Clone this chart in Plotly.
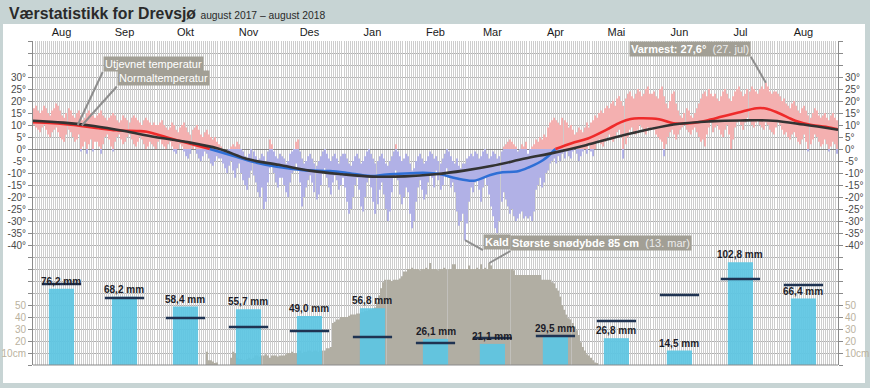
import pandas as pd
import plotly.graph_objects as go

# ---------------- data ----------------
tmax_aug17 = [17,18,16,15,16,18,17,15,14,16,17,19,18,16,14,13,15,17,16,14,13,15,16,14,12,13,15,16,15,14,13]
tmin_aug17 = [10,9,8,7,9,10,8,6,5,7,8,9,7,5,4,3,6,8,7,5,3,4,6,-1,1,3,-2,2,4,-1,3]
tmax_sep17 = [14,15,16,14,13,12,13,14,15,14,12,11,12,14,13,12,11,13,14,13,12,11,10,12,13,12,11,10,11,10]
tmin_sep17 = [3,1,-2,2,5,6,4,1,-1,3,5,6,4,2,3,5,6,4,2,1,3,5,4,2,0,1,3,2,1,0]
tmax_okt17 = [10,11,12,10,9,8,9,11,10,8,7,9,10,11,9,7,6,8,9,10,8,6,5,7,8,6,5,4,5,3,2]
tmin_okt17 = [3,4,2,1,0,2,3,1,-1,-2,0,2,1,-1,-3,-4,-2,0,1,-2,-4,-5,-3,-1,-2,-4,-6,-7,-5,-3,-4]
tmax_nov17 = [1,0,-1,-2,0,1,2,1,3,2,0,-1,-3,-4,-2,0,-1,-3,-5,-4,-2,-3,-5,-1,4,2,-1,-3,-4,-2]
tmin_nov17 = [-4,-6,-8,-10,-7,-5,-9,-12,-8,-6,-10,-13,-15,-17,-12,-9,-11,-14,-18,-20,-16,-25,-22,-14,-8,-6,-10,-14,-16,-12]
tmax_des17 = [-3,-4,-6,-5,-2,-1,0,3,4,-1,-4,-6,-5,-3,-2,-4,-6,-7,-5,-3,-1,0,-2,-4,-5,-3,-2,-4,-6,-3,-2]
tmin_des17 = [-12,-15,-18,-20,-14,-10,-9,-6,-8,-14,-24,-20,-16,-13,-11,-14,-18,-21,-19,-15,-10,-8,-12,-16,-19,-14,-11,-13,-17,-15,-12]
tmax_jan18 = [-2,-4,-6,-7,-5,-3,-2,-4,-6,-5,-3,-1,0,-2,-4,-6,-5,-3,-2,-4,-6,-7,-5,-3,-1,2,-1,-3,-5,-4,-2]
tmin_jan18 = [-16,-22,-27,-25,-20,-15,-12,-17,-24,-26,-20,-14,-12,-16,-22,-27,-23,-17,-14,-19,-25,-30,-26,-18,-12,-9,-13,-19,-23,-20,-16]
tmax_feb18 = [-3,-6,-9,-8,-5,-3,-2,-4,-6,-5,-3,-1,-2,-4,-3,-5,-6,-4,-2,0,-1,-3,-5,-6,-4,-7,-8,-6]
tmin_feb18 = [-18,-27,-33,-30,-22,-16,-13,-17,-21,-19,-14,-10,-12,-16,-9,-13,-17,-15,-11,-8,-12,-16,-14,-18,-26,-32,-30,-27]
tmax_mar18 = [-6,-4,-3,-2,-3,-1,-2,-4,-3,-1,0,-2,-4,-3,-1,-2,-4,-3,-1,1,2,3,4,3,2,1,-1,0,2,1,3]
tmin_mar18 = [-38,-31,-22,-16,-18,-14,-13,-17,-22,-16,-12,-15,-19,-24,-28,-33,-35,-30,-22,-18,-21,-24,-27,-25,-28,-30,-29,-27,-26,-29,-28]
tmax_apr18 = [-2,0,1,2,4,3,5,4,6,5,9,11,12,13,12,11,10,13,12,11,9,10,8,6,7,9,8,7,9,11]
tmin_apr18 = [-29,-28,-30,-26,-17,-15,-12,-16,-14,-10,-9,-6,-5,-4,-6,-3,-5,-2,-4,-1,-3,-4,-1,0,-2,-5,-3,-1,0,-2]
tmax_mai18 = [9,11,12,14,13,15,16,15,17,18,17,19,20,18,21,22,20,18,21,23,24,22,21,23,25,24,22,23,25,26,23]
tmin_mai18 = [2,-1,-3,0,3,4,2,1,3,5,6,4,3,5,7,8,6,-4,2,5,8,9,7,6,8,10,9,7,6,9,8]
tmax_jun18 = [23,24,22,21,25,26,22,19,17,20,23,24,19,16,14,13,15,17,16,14,13,15,17,19,21,23,24,22,25,23]
tmin_jun18 = [9,8,6,5,4,3,-3,2,5,7,8,6,4,6,8,9,10,8,7,6,8,9,7,5,3,4,1,6,9,11]
tmax_jul18 = [22,23,21,20,22,24,25,23,21,20,22,24,25,26,24,22,23,25,24,26,25,24,23,25,26,25,27.6,26,24,23,24]
tmin_jul18 = [7,9,10,8,6,5,8,10,6,0,4,9,11,12,10,8,11,13,12,10,9,11,12,10,9,8,11,10,8,7,6]
tmax_aug18 = [24,23,22,20,21,19,18,17,19,20,18,16,15,17,18,16,14,13,15,17,16,14,13,14,15,13,12,14,15,13,12]
tmin_aug18 = [9,11,10,8,6,7,5,4,6,7,5,3,2,4,6,3,-1,2,4,6,5,3,1,2,4,2,-1,1,3,2,-2]

smooth_dates = ['2017-08-01','2017-08-11','2017-08-21','2017-09-01','2017-09-11','2017-09-21','2017-09-26',
                '2017-10-06','2017-10-16','2017-10-27','2017-11-09','2017-11-19','2017-11-29','2017-12-12',
                '2017-12-25','2018-01-02','2018-01-14','2018-01-22','2018-02-03','2018-02-09','2018-02-17',
                '2018-02-25','2018-03-06','2018-03-14','2018-03-20','2018-03-27','2018-04-02','2018-04-09',
                '2018-04-15','2018-04-23','2018-05-01','2018-05-10','2018-05-17','2018-05-22','2018-05-26',
                '2018-06-05','2018-06-12','2018-06-20','2018-06-28','2018-07-06','2018-07-14','2018-07-23',
                '2018-07-28','2018-08-03','2018-08-11','2018-08-19','2018-08-26','2018-09-01']
smooth_temp = [11.2,10.8,10.0,8.8,7.8,7.5,7.2,4.8,2.5,0,-3.2,-5.7,-7.4,-8.8,-9.2,-9.9,-11.3,-10.6,-10.1,-9.9,
               -10.4,-12.2,-13.2,-10.8,-9.7,-9.4,-7.6,-4.6,0,2.4,4.4,8,11.1,12.5,12.8,12.4,10.7,10.7,11.8,
               13.5,15.2,17,16.8,14.9,11.8,10,9.3,8.2]

normal_dates = ['2017-08-01','2017-08-16','2017-08-31','2017-09-15','2017-09-30','2017-10-15','2017-10-31',
                '2017-11-15','2017-11-30','2017-12-15','2017-12-31','2018-01-15','2018-01-31','2018-02-15',
                '2018-03-01','2018-03-15','2018-03-31','2018-04-15','2018-04-30','2018-05-15','2018-05-31',
                '2018-06-15','2018-06-30','2018-07-15','2018-07-31','2018-08-15','2018-09-01']
normal_temp = [11.8,11.0,9.6,7.5,5.0,3.0,0.2,-4.3,-6.6,-9.0,-10.5,-11.5,-11.4,-10.5,-9.0,-7.0,-4.0,-1.4,1.6,
               5.0,8.2,10.5,11.5,11.9,11.8,10.2,8.0]

snow_start = '2017-10-25'
snow_cm = ([11,4,4,3,1,2,0] +
           [0,0,0,0,0,6,11,10,6,5,5,4,4,5,6,5,6,8,8,7,8,8,9,8,6,8,8,8,7,8] +
           [8,8,9,10,10,11,10,10,12,12,10,11,11,12,12,11,12,12,11,12,12,12,14,14,15,35,36,38,38,40,40] +
           [40,40,41,42,42,42,43,43,44,44,45,45,46,46,47,48,52,58,64,69,71,71,71,70,71,71,71,72,74,78,78] +
           [80,80,81,80,80,80,79,80,80,81,80,85,80,80,80,79,80,80,81,80,80,80,84,84,80,80,80,80] +
           [80,80,83,80,80,80,81,80,84,80,81,80,85,83,80,80,80,80,80,80,80,80,80,80,79,75,75,75,75,75,75] +
           [75,75,75,75,75,75,75,71,71,71,71,71,69,68,64,62,57,50,46,42,39,38,35,32,29,25,19,15,12,9] +
           [8,6,4,2,1])

month_mid = ['2017-08-15','2017-09-15','2017-10-15','2017-11-15','2017-12-15','2018-01-15','2018-02-15',
             '2018-03-15','2018-04-15','2018-05-15','2018-06-15','2018-07-15','2018-08-15']
month_names = ['Aug','Sep','Okt','Nov','Des','Jan','Feb','Mar','Apr','Mai','Jun','Jul','Aug']
precip_mm = [76.2,68.2,58.4,55.7,49.0,56.8,26.1,21.1,29.5,26.8,14.5,102.8,66.4]
precip_normal = [81,67,47,38,34,28,22,27,29,44,70,86,80]
precip_labels = ['76,2 mm','68,2 mm','58,4 mm','55,7 mm','49,0 mm','56,8 mm','26,1 mm','21,1 mm',
                 '29,5 mm','26,8 mm','14,5 mm','102,8 mm','66,4 mm']

temp_tick_vals = [30,25,20,15,10,5,0,-5,-10,-15,-20,-25,-30,-35,-40]
temp_tick_text = ['30°','25°','20°','15°','10°','5°','0°','-5°','-10°','-15°','-20°','-25°','-30°','-35°','-40°']
snow_tick_vals = [10,20,30,40,50]
snow_tick_text = ['10cm','20','30','40','50']

# ---------------- assemble ----------------
tmax = (tmax_aug17 + tmax_sep17 + tmax_okt17 + tmax_nov17 + tmax_des17 + tmax_jan18 + tmax_feb18 +
        tmax_mar18 + tmax_apr18 + tmax_mai18 + tmax_jun18 + tmax_jul18 + tmax_aug18)
tmin = (tmin_aug17 + tmin_sep17 + tmin_okt17 + tmin_nov17 + tmin_des17 + tmin_jan18 + tmin_feb18 +
        tmin_mar18 + tmin_apr18 + tmin_mai18 + tmin_jun18 + tmin_jul18 + tmin_aug18)
assert len(tmax) == 396 and len(tmin) == 396, (len(tmax), len(tmin))
assert len(snow_cm) == 193, len(snow_cm)

DAY = 86400000
days = [d.strftime('%Y-%m-%dT12:00') for d in pd.date_range('2017-08-01', periods=len(tmax), freq='D')]
snow_days = [d.strftime('%Y-%m-%dT12:00') for d in pd.date_range(snow_start, periods=len(snow_cm), freq='D')]

pos_base = [max(lo, 0) if hi > 0 else None for hi, lo in zip(tmax, tmin)]
pos_h = [hi - max(lo, 0) if hi > 0 else None for hi, lo in zip(tmax, tmin)]
neg_base = [lo if lo < 0 else None for hi, lo in zip(tmax, tmin)]
neg_h = [min(hi, 0) - lo if lo < 0 else None for hi, lo in zip(tmax, tmin)]

# split smoothed line by sign
segs = []
cur = [[], [], None]
for d, v in zip(smooth_dates, smooth_temp):
    sign = 'pos' if v > 0 else ('neg' if v < 0 else None)
    if sign is None:
        cur[0].append(d); cur[1].append(v)
        segs.append(cur)
        cur = [[d], [v], None]
        continue
    if cur[2] is None:
        cur[2] = sign
    cur[0].append(d); cur[1].append(v)
segs.append(cur)

fig = go.Figure()

# invisible trace that carries the daily vertical grid (xaxis2)
fig.add_trace(go.Scatter(x=[days[0]], y=[0], xaxis='x2', yaxis='y', mode='markers', marker=dict(opacity=0),
                         hoverinfo='skip', showlegend=False))

# temperature daily bars
fig.add_trace(go.Bar(x=days, y=pos_h, base=pos_base, width=0.55 * DAY, marker=dict(color='#f4b0b0', line=dict(width=0)),
                     hoverinfo='skip', showlegend=False))
fig.add_trace(go.Bar(x=days, y=neg_h, base=neg_base, width=0.55 * DAY, marker=dict(color='#b1b1e6', line=dict(width=0)),
                     hoverinfo='skip', showlegend=False))
for sd, sv, sg in segs:
    if len(sd) < 2:
        continue
    col = '#ef2b2b' if sg == 'pos' else '#2f6fd6'
    fig.add_trace(go.Scatter(x=sd, y=sv, mode='lines', line=dict(color=col, width=2.6, shape='spline', smoothing=1.0),
                             hoverinfo='skip', showlegend=False))

# normal temperature (right axis, same scale)
fig.add_trace(go.Scatter(x=normal_dates, y=normal_temp, yaxis='y2', mode='lines',
                         line=dict(color='#333333', width=2.6, shape='spline', smoothing=1.0),
                         hoverinfo='skip', showlegend=False))

# snow depth
fig.add_trace(go.Bar(x=snow_days, y=snow_cm, yaxis='y3', width=0.7 * DAY,
                     marker=dict(color='#b1aea3', line=dict(width=0)), hoverinfo='skip', showlegend=False))
fig.add_trace(go.Scatter(x=[snow_days[0]], y=[0], yaxis='y4', mode='markers', marker=dict(opacity=0),
                         hoverinfo='skip', showlegend=False))

# precipitation
fig.add_trace(go.Bar(x=month_mid, y=precip_mm, yaxis='y5', width=12.4 * DAY, opacity=0.93,
                     marker=dict(color='#5ec6e3', line=dict(width=0)), hoverinfo='skip', showlegend=False))
fig.add_trace(go.Scatter(x=month_mid, y=precip_normal, yaxis='y5', mode='markers',
                         marker=dict(symbol='line-ew', size=28, line=dict(width=2.6, color='#1f3352')),
                         hoverinfo='skip', showlegend=False))

W, H = 870, 388
L, R, T, B = 33, 32, 41, 23
pw, ph = W - L - R, H - T - B

def px_x(px):
    return (px - L) / pw

def px_y(py):
    return (H - B - py) / ph

annotations = []
annotations.append(dict(xref='paper', yref='paper', x=px_x(7), y=px_y(13), xanchor='left', yanchor='middle',
                        showarrow=False,
                        text='<b>Værstatistikk for Drevsjø</b> <span style="font-size:10.3px">august 2017 – august 2018</span>',
                        font=dict(size=15.8, color='#2a2a2a', family='Liberation Sans, Arial')))
for m, v, t in zip(month_mid, precip_mm, precip_labels):
    annotations.append(dict(x=m, y=v, xref='x', yref='y5', text='<b>' + t + '</b>', showarrow=False, yanchor='bottom',
                            yshift=0, font=dict(size=10, color='#1c1c28', family='Liberation Sans, Arial')))

box = dict(bgcolor='#a29f95', borderpad=1, font=dict(size=11, color='white', family='Liberation Sans, Arial'),
           showarrow=True, arrowhead=0, arrowwidth=2, arrowcolor='#8e8e8e', standoff=0)
annotations.append(dict(x='2017-08-23', y=10.0, xref='x', yref='y', text='Utjevnet temperatur',
                        ax=25, ay=-53, xanchor='left', yanchor='bottom', **box))
annotations.append(dict(x='2017-08-25', y=9.8, xref='x', yref='y', text='Normaltemperatur',
                        ax=35, ay=-39, xanchor='left', yanchor='bottom', **box))
annotations.append(dict(x='2018-07-27T12:00', y=27.6, xref='x', yref='y',
                        text='<b>Varmest: 27,6°</b>  <span style="color:#ececec">(27. jul)</span>',
                        ax=-15, ay=-26, xanchor='right', yanchor='bottom', **box))
annotations.append(dict(x='2018-03-01T12:00', y=-38.0, xref='x', yref='y', text='<b>Kald</b>',
                        ax=18, ay=10, xanchor='left', yanchor='bottom', **box))
annotations.append(dict(x='2018-03-13T12:00', y=85, xref='x', yref='y3',
                        text='<b>Største snødybde 85 cm</b>  <span style="color:#ececec">(13. mar)</span>',
                        ax=21, ay=-12, xanchor='left', yanchor='bottom', **box))

shapes = [
    dict(type='rect', xref='paper', yref='paper', x0=px_x(3), x1=px_x(865), y0=px_y(383), y1=px_y(24),
         fillcolor='white', line=dict(width=0), layer='below'),
    dict(type='line', xref='paper', yref='paper', x0=0, x1=1, y0=0, y1=0, line=dict(color='#8a8a8a', width=1)),
]

all_temp_vals = list(range(-90, 50, 5))
all_temp_text = [temp_tick_text[temp_tick_vals.index(v)] if v in temp_tick_vals else '' for v in all_temp_vals]

yax_common = dict(range=[-90, 45], tickmode='array', tickvals=all_temp_vals, ticktext=all_temp_text,
                  ticks='outside', ticklen=4, tickcolor='#8a8a8a', showline=True, linecolor='#8a8a8a',
                  tickfont=dict(size=10, color='#4a4a4a'), fixedrange=True, automargin=False)
snow_common = dict(overlaying='y', range=[0, 270], tickmode='array', tickvals=snow_tick_vals,
                   ticktext=snow_tick_text, showgrid=False, zeroline=False, showline=False, ticks='outside',
                   ticklen=4, tickcolor='rgba(0,0,0,0)', tickfont=dict(size=10, color='#bab29e'),
                   fixedrange=True, automargin=False)

fig.update_layout(
    width=W, height=H, margin=dict(l=L, r=R, t=T, b=B, pad=0, autoexpand=False),
    paper_bgcolor='#c7d4d4', plot_bgcolor='rgba(0,0,0,0)',
    font=dict(family='Liberation Sans, Arial', size=11, color='#222'),
    barmode='overlay', hovermode=False,
    xaxis=dict(type='date', range=['2017-08-01', '2018-09-01'], side='top', tickmode='array',
               tickvals=month_mid, ticktext=month_names, ticks='', showgrid=False, zeroline=False,
               showline=False, tickfont=dict(size=11, color='#1a1a1a'), ticklabelstandoff=2,
               fixedrange=True, automargin=False),
    xaxis2=dict(type='date', overlaying='x', matches='x', range=['2017-08-01', '2018-09-01'], side='bottom',
                tickmode='linear', tick0='2017-08-01', dtick=DAY, showticklabels=False, ticks='',
                showgrid=True, gridcolor='#cdcdcd', gridwidth=1, zeroline=False, showline=False,
                fixedrange=True, automargin=False),
    yaxis=dict(side='left', showgrid=True, gridcolor='#b0b0b0', gridwidth=1, zeroline=True,
               zerolinecolor='#858585', zerolinewidth=1, **yax_common),
    yaxis2=dict(overlaying='y', side='right', showgrid=False, zeroline=False, **yax_common),
    yaxis3=dict(side='left', **snow_common),
    yaxis4=dict(side='right', **snow_common),
    yaxis5=dict(overlaying='y', range=[0, ph], visible=False, fixedrange=True),
    annotations=annotations,
    shapes=shapes,
)

fig.write_html('out.html', config={'displayModeBar': False},
               post_script="document.body.style.margin='0px';document.body.style.padding='0px';")
